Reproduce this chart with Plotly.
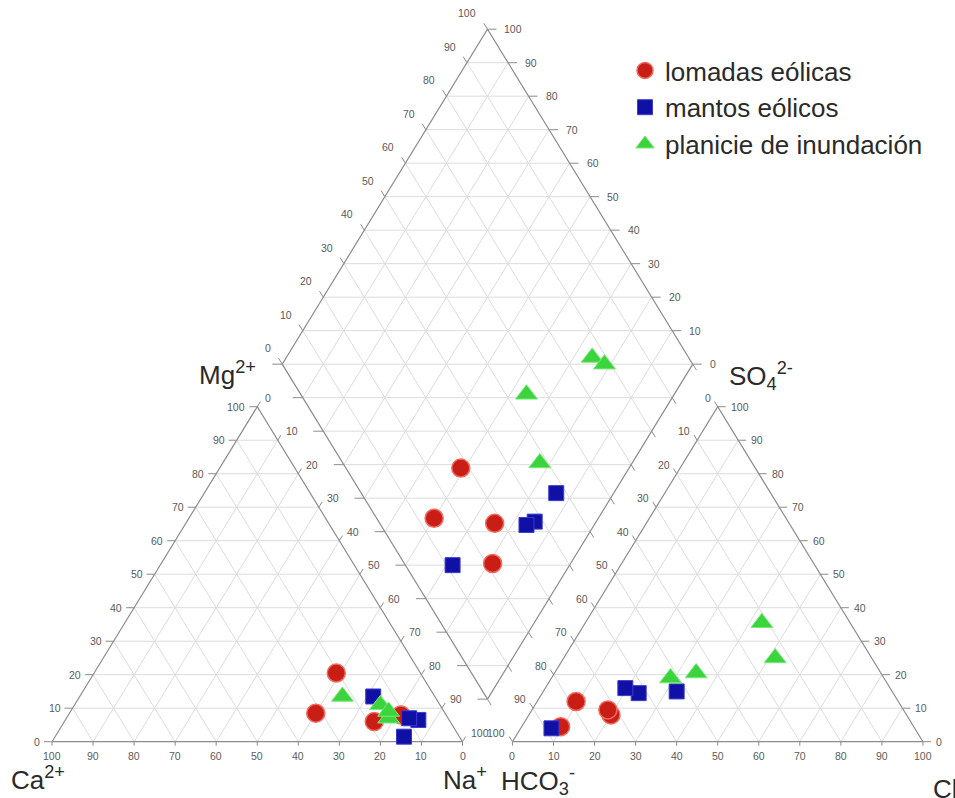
import numpy as np
import plotly.graph_objects as go

# ---------------- sample chemistry, % of meq/L ----------------
GROUP_NAMES = ["lomadas eólicas", "mantos eólicos", "planicie de inundación"]

# lomadas eólicas
lomadas_ca = [20.5, 31.5, 18.5, 11.0]
lomadas_mg = [20.5, 8.5, 6.0, 8.0]
lomadas_na = [59.0, 60.0, 75.5, 81.0]
lomadas_hco3 = [72.0, 86.0, 72.0, 78.5]
lomadas_so4 = [8.0, 4.5, 9.5, 12.0]
lomadas_cl = [20.0, 9.5, 18.5, 9.5]

# mantos eólicos
mantos_ca = [15.0, 7.5, 13.5, 9.5]
mantos_mg = [13.5, 6.5, 1.5, 7.0]
mantos_na = [71.5, 86.0, 85.0, 83.5]
mantos_hco3 = [88.5, 52.5, 62.0, 64.5]
mantos_so4 = [4.0, 15.0, 14.5, 16.0]
mantos_cl = [7.5, 32.5, 23.5, 19.5]

# planicie de inundación
planicie_ca = [14.5, 14.5, 22.5, 13.5]
planicie_mg = [11.0, 7.0, 13.5, 9.0]
planicie_na = [74.5, 78.5, 64.0, 77.5]
planicie_hco3 = [23.5, 21.5, 45.0, 52.0]
planicie_so4 = [25.0, 35.5, 20.5, 19.0]
planicie_cl = [51.5, 43.0, 34.5, 29.0]

TICK_VALUES = [0, 10, 20, 30, 40, 50, 60, 70, 80, 90, 100]

# ---------------- Piper geometry (unit side triangles) ----------------
H = np.sqrt(3) / 2
GAP = 0.1217            # space between the two ternary triangles
YB = 0.11               # height of the diamond's lower vertex
RX0 = 1 + GAP           # left vertex of the anion triangle
BX = 1 + GAP / 2        # x of the diamond's vertical axis

# pixel -> data unit factors (used for tick lengths only)
PXX = 1 / 410.5
PXY = 1 / 386.8


def cation_xy(ca, mg, na):
    ca, mg, na = (np.asarray(v, float) / 100 for v in (ca, mg, na))
    return na + mg / 2, mg * H


def anion_xy(hco3, so4, cl):
    hco3, so4, cl = (np.asarray(v, float) / 100 for v in (hco3, so4, cl))
    return RX0 + cl + so4 / 2, so4 * H


def diamond_pt(u, v):
    """u = (Ca+Mg) fraction, v = (SO4+Cl) fraction."""
    return BX - 0.5 * u + 0.5 * v, YB + H * (u + v)


def diamond_xy(na, hco3):
    u = 1 - np.asarray(na, float) / 100
    v = 1 - np.asarray(hco3, float) / 100
    return diamond_pt(u, v)


# ---------------- frame: grid, outlines, ticks ----------------
grid_x, grid_y = [], []
edge_x, edge_y = [], []
tick_x, tick_y = [], []


def seg(xs, ys, p, q):
    xs += [p[0], q[0], None]
    ys += [p[1], q[1], None]


inner = [t / 100 for t in TICK_VALUES[1:-1]]

for x0 in (0.0, RX0):
    for f in inner:
        seg(grid_x, grid_y, (x0 + f / 2, f * H), (x0 + 1 - f / 2, f * H))
        seg(grid_x, grid_y, (x0 + f, 0), (x0 + (1 + f) / 2, (1 - f) * H))
        seg(grid_x, grid_y, (x0 + 1 - f, 0), (x0 + (1 - f) / 2, (1 - f) * H))
    edge_x += [x0, x0 + 1, x0 + 0.5, x0, None]
    edge_y += [0, 0, H, 0, None]

for f in inner:
    seg(grid_x, grid_y, diamond_pt(f, 0), diamond_pt(f, 1))
    seg(grid_x, grid_y, diamond_pt(0, f), diamond_pt(1, f))
for k in range(1, 20):
    s = k / 10
    if s <= 1:
        seg(grid_x, grid_y, diamond_pt(s, 0), diamond_pt(0, s))
    else:
        seg(grid_x, grid_y, diamond_pt(1, s - 1), diamond_pt(s - 1, 1))
for p in [(0, 0), (1, 0), (1, 1), (0, 1), (0, 0)]:
    dx, dy = diamond_pt(*p)
    edge_x.append(dx)
    edge_y.append(dy)
edge_x.append(None)
edge_y.append(None)

annotations = []
TICK_FONT = dict(family="Liberation Sans, Arial, sans-serif", size=10.5, color="#5a5a5a")


def label(x, y, text, xanchor="center", xshift=0, yshift=0):
    annotations.append(dict(x=x, y=y, xref="x", yref="y", text=text, showarrow=False,
                            xanchor=xanchor, yanchor="middle", xshift=xshift,
                            yshift=yshift, font=TICK_FONT))


for t in TICK_VALUES:
    f = t / 100
    # cation triangle: Mg on the left side
    px, py = f / 2, f * H
    seg(tick_x, tick_y, (px, py), (px - 8 * PXX, py))
    label(px, py, str(t), "right", -10, 0)
    # cation triangle: Ca along the base (100 at the Ca corner)
    bx = 1 - f
    seg(tick_x, tick_y, (bx, 0), (bx, -4 * PXY))
    label(bx, 0, str(t), "center", 0, -14)
    # cation triangle: Na on the right side (0 at the apex)
    px, py = 0.5 + f / 2, (1 - f) * H
    seg(tick_x, tick_y, (px, py), (px + 3.2 * PXX, py + 5.2 * PXY))
    label(px, py, str(t), "left", 6, 9)
    # anion triangle: HCO3 on the left side (0 at the apex)
    px, py = RX0 + 0.5 - f / 2, (1 - f) * H
    seg(tick_x, tick_y, (px, py), (px - 3.2 * PXX, py + 5.2 * PXY))
    label(px, py, str(t), "right", -5, 9)
    # anion triangle: Cl along the base
    bx = RX0 + f
    seg(tick_x, tick_y, (bx, 0), (bx, -4 * PXY))
    label(bx, 0, str(t), "center", 0, -14)
    # anion triangle: SO4 on the right side
    px, py = RX0 + 1 - f / 2, f * H
    seg(tick_x, tick_y, (px, py), (px + 8 * PXX, py))
    label(px, py, str(t), "left", 11, 0)
    # diamond upper-left edge: SO4 + Cl
    px, py = diamond_pt(1, f)
    seg(tick_x, tick_y, (px, py), (px - 3.7 * PXX, py + 6 * PXY))
    label(px, py, str(t), "right", -9, 16)
    # diamond upper-right edge: Ca + Mg
    px, py = diamond_pt(f, 1)
    seg(tick_x, tick_y, (px, py), (px + 9 * PXX, py))
    label(px, py, str(t), "left", 15, 0)
    # diamond lower edges: ticks only
    px, py = diamond_pt(f, 0)
    seg(tick_x, tick_y, (px, py), (px - 10 * PXX, py))
    px, py = diamond_pt(0, f)
    seg(tick_x, tick_y, (px, py), (px + 3.7 * PXX, py - 6 * PXY))

fig = go.Figure()
fig.add_trace(go.Scatter(x=grid_x, y=grid_y, mode="lines", hoverinfo="skip", showlegend=False,
                         line=dict(color="#dcdcdc", width=1)))
fig.add_trace(go.Scatter(x=tick_x, y=tick_y, mode="lines", hoverinfo="skip", showlegend=False,
                         line=dict(color="#8c8c8c", width=1)))
fig.add_trace(go.Scatter(x=edge_x, y=edge_y, mode="lines", hoverinfo="skip", showlegend=False,
                         line=dict(color="#8c8c8c", width=1.2)))

# ---------------- samples ----------------
groups = [
    (GROUP_NAMES[0], lomadas_ca, lomadas_mg, lomadas_na, lomadas_hco3, lomadas_so4, lomadas_cl,
     dict(symbol="circle", size=18, color="#c81e16", line=dict(color="#f06a5e", width=1.5))),
    (GROUP_NAMES[1], mantos_ca, mantos_mg, mantos_na, mantos_hco3, mantos_so4, mantos_cl,
     dict(symbol="square", size=15, color="#1010a4", line=dict(color="#3c3cd0", width=1))),
    (GROUP_NAMES[2], planicie_ca, planicie_mg, planicie_na, planicie_hco3, planicie_so4, planicie_cl,
     dict(symbol="triangle-up", size=19, color="#3cd43c", line=dict(color="#7ae87a", width=1))),
]

for name, ca, mg, na, hco3, so4, cl, marker in groups:
    cx, cy = cation_xy(ca, mg, na)
    ax, ay = anion_xy(hco3, so4, cl)
    dx, dy = diamond_xy(na, hco3)
    fig.add_trace(go.Scatter(
        x=np.concatenate([cx, ax, dx]), y=np.concatenate([cy, ay, dy]),
        mode="markers", name=name, marker=marker,
    ))

# ---------------- corner / axis titles ----------------
TITLE_FONT = dict(family="Liberation Sans, Arial, sans-serif", size=26, color="#2a2a2a")


def title(x, y, text, xshift, yshift):
    annotations.append(dict(x=x, y=y, xref="x", yref="y", text=text, showarrow=False,
                            xanchor="left", yanchor="middle", xshift=xshift, yshift=yshift,
                            font=TITLE_FONT))


title(0, 0, "Ca<sup>2+</sup>", -43, -37)
title(1, 0, "Na<sup>+</sup>", -22, -37)
title(RX0, 0, "HCO<sub>3</sub><sup>-</sup>", -13, -39)
title(RX0 + 1, 0, "Cl<sup>-</sup>", 8, -46)
lx, ly = diamond_pt(1, 0)
title(lx, ly, "Mg<sup>2+</sup>", -85, -9)
rx, ry = diamond_pt(0, 1)
title(rx, ry, "SO<sub>4</sub><sup>2-</sup>", 34, -12)

fig.update_layout(
    width=955, height=798, autosize=False,
    margin=dict(l=0, r=0, t=0, b=0),
    paper_bgcolor="white", plot_bgcolor="white",
    xaxis=dict(visible=False, range=[-52 / 410.5, (955 - 52) / 410.5], fixedrange=True),
    yaxis=dict(visible=False, range=[(741.7 - 798) / 386.8, 741.7 / 386.8], fixedrange=True),
    annotations=annotations,
    showlegend=True,
    legend=dict(x=625 / 955, y=1 - 47 / 798, xanchor="left", yanchor="top",
                bgcolor="rgba(255,255,255,0)",
                font=dict(family="Liberation Sans, Arial, sans-serif", size=26, color="#2a2a2a"),
                itemsizing="trace", tracegroupgap=0),
)

fig.write_html("out.html")
